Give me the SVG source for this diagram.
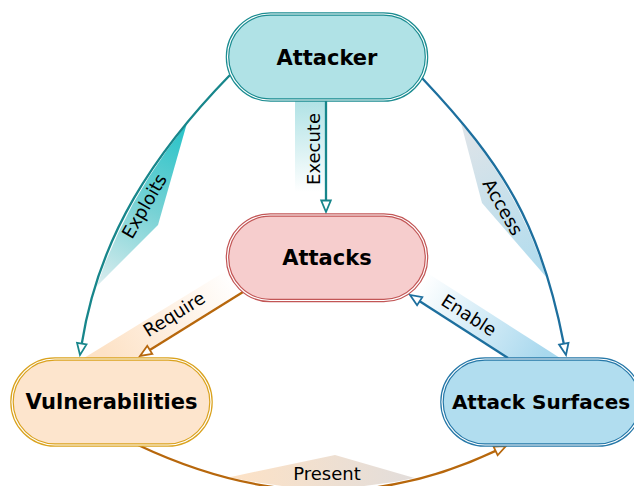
<svg xmlns="http://www.w3.org/2000/svg" width="634" height="486" viewBox="0 0 634 486">
<style>
.lbl{font-family:"DejaVu Sans","Liberation Sans",sans-serif;font-size:18px;fill:#000}
.ntxt{font-family:"DejaVu Sans","Liberation Sans",sans-serif;font-size:21px;font-weight:bold;fill:#000;text-anchor:middle}
.edge{fill:none;stroke-width:2.3}
.teal{stroke:#17868b}
.blue{stroke:#1d6f9e}
.orange{stroke:#b7670c}
.gap{fill:none;stroke:#fff;stroke-width:1.2}
</style>
<defs>
<marker id="aT" markerUnits="userSpaceOnUse" viewBox="-2 -7 16 14" markerWidth="16" markerHeight="14" refX="0" refY="0" orient="auto"><path d="M0,-4.8 L11.5,0 L0,4.8 Z" fill="#fff" stroke="#17868b" stroke-width="1.8"/></marker>
<marker id="aB" markerUnits="userSpaceOnUse" viewBox="-2 -7 16 14" markerWidth="16" markerHeight="14" refX="0" refY="0" orient="auto"><path d="M0,-4.8 L11.5,0 L0,4.8 Z" fill="#fff" stroke="#1d6f9e" stroke-width="1.8"/></marker>
<marker id="aO" markerUnits="userSpaceOnUse" viewBox="-2 -7 16 14" markerWidth="16" markerHeight="14" refX="0" refY="0" orient="auto"><path d="M0,-4.8 L11.5,0 L0,4.8 Z" fill="#fff" stroke="#b7670c" stroke-width="1.8"/></marker>
<linearGradient id="gExec" gradientUnits="userSpaceOnUse" x1="0" y1="101" x2="0" y2="192"><stop offset="0" stop-color="#b0e2e5"/><stop offset="1" stop-color="#fff"/></linearGradient>
<linearGradient id="gExpl" gradientUnits="userSpaceOnUse" x1="184" y1="126" x2="98" y2="286"><stop offset="0" stop-color="#28c3c8"/><stop offset="0.5" stop-color="#78d2d5"/><stop offset="1" stop-color="#dcedef"/></linearGradient>
<linearGradient id="gAcc" gradientUnits="userSpaceOnUse" x1="462" y1="124" x2="546" y2="276"><stop offset="0" stop-color="#e0e4e8"/><stop offset="1" stop-color="#b0dcee"/></linearGradient>
<linearGradient id="gReq" gradientUnits="userSpaceOnUse" x1="105" y1="355" x2="232" y2="276"><stop offset="0" stop-color="#fde2c6"/><stop offset="1" stop-color="#fff"/></linearGradient>
<linearGradient id="gEn" gradientUnits="userSpaceOnUse" x1="540" y1="362" x2="420" y2="285"><stop offset="0" stop-color="#a8d8ee"/><stop offset="1" stop-color="#fff"/></linearGradient>
<linearGradient id="gPres" gradientUnits="userSpaceOnUse" x1="232" y1="0" x2="414" y2="0"><stop offset="0" stop-color="#fde2c6"/><stop offset="1" stop-color="#e2dddb"/></linearGradient>
</defs>

<g id="connectors">
  <!-- label shadings -->
  <rect x="295" y="101" width="31" height="91" fill="url(#gExec)"/>
  <polygon points="186.8,123.8 158,225 96.8,286.2 105.5,262.1 118.3,232.7 132.9,204.1 149.2,176.4 167.3,149.7" fill="url(#gExpl)"/>
  <polygon points="460.6,121.7 485.3,154.4 502,179.5 516.5,205.3 529.3,231.9 540.4,259.8 546.4,277.3 482,203" fill="url(#gAcc)"/>
  <polygon points="137,358 243,292 229,269 84,358" fill="url(#gReq)"/>
  <polygon points="508,358 410,295 425,271.5 560,358" fill="url(#gEn)"/>
  <polygon points="229.5,477.2 335,455 414.5,477.9 396.1,481.7 359,486.7 322,488.3 285,486.4 248,481.1" fill="url(#gPres)"/>

  <!-- edges -->
  <path class="edge teal" d="M326,101 L326,200.5" marker-end="url(#aT)"/>
  <path class="edge teal" d="M230,75 C154,153 98.8,236.6 81.8,343.6" marker-end="url(#aT)"/>
  <path class="edge blue" d="M422,78 C505,166 540.8,225.7 563.8,343.7" marker-end="url(#aB)"/>
  <path class="edge orange" d="M243,292 L149.8,349.9" marker-end="url(#aO)"/>
  <path class="edge blue" d="M508,358 L419.7,301.2" marker-end="url(#aB)"/>
  <path class="edge orange" d="M138,445 C259,502 374.6,507.9 495.6,450.9" marker-end="url(#aO)"/>

  <!-- labels -->
  <text class="lbl" text-anchor="middle" transform="translate(313,149) rotate(-90)" y="6.5">Execute</text>
  <text class="lbl" text-anchor="middle" transform="translate(144,206) rotate(-60)" y="6.5">Exploits</text>
  <text class="lbl" text-anchor="middle" transform="translate(503,207) rotate(60)" y="6.5">Access</text>
  <text class="lbl" text-anchor="middle" transform="translate(174,314) rotate(-31.8)" y="6.5">Require</text>
  <text class="lbl" text-anchor="middle" transform="translate(469,315) rotate(32.7)" y="6.5">Enable</text>
  <text class="lbl" text-anchor="middle" x="327" y="480">Present</text>
</g>

<g id="attacker">
  <rect x="227.5" y="14" width="199" height="86" rx="43" fill="#b0e2e6" stroke="#1b8c91" stroke-width="3.6"/>
  <rect x="227.5" y="14" width="199" height="86" rx="43" class="gap"/>
  <text class="ntxt" x="327" y="64.6">Attacker</text>
</g>

<g id="attacks">
  <rect x="227.5" y="215" width="199" height="85.5" rx="42.7" fill="#f6cdcd" stroke="#c25656" stroke-width="3.6"/>
  <rect x="227.5" y="215" width="199" height="85.5" rx="42.7" class="gap"/>
  <text class="ntxt" x="327" y="265.4">Attacks</text>
</g>

<g id="vulnerabilities">
  <rect x="12" y="359" width="199" height="86" rx="43" fill="#fde5cd" stroke="#daa21e" stroke-width="3.6"/>
  <rect x="12" y="359" width="199" height="86" rx="43" class="gap"/>
  <text class="ntxt" x="111.5" y="409.3">Vulnerabilities</text>
</g>

<g id="attack-surfaces">
  <rect x="442" y="359" width="199" height="86" rx="43" fill="#b1ddef" stroke="#2678a8" stroke-width="3.6"/>
  <rect x="442" y="359" width="199" height="86" rx="43" class="gap"/>
  <text class="ntxt" x="541" y="409" style="font-size:20px">Attack Surfaces</text>
</g>
</svg>
